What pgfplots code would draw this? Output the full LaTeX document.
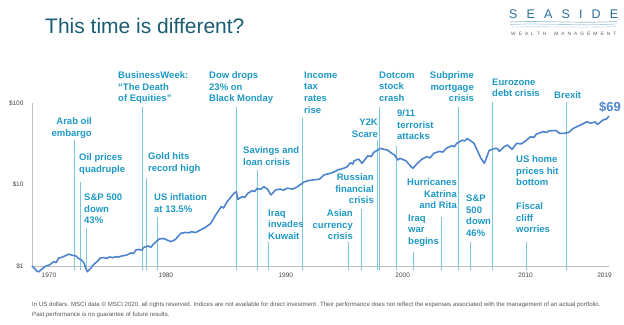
\documentclass[border=0pt]{standalone}
\usepackage{pgfplots}
\pgfplotsset{compat=1.18}
\usepackage{fontspec}
\setmainfont{Liberation Sans}
\definecolor{ttl}{RGB}{26,92,112}
\definecolor{evtxt}{RGB}{30,152,196}
\definecolor{evline}{RGB}{125,198,220}
\definecolor{dline}{RGB}{78,132,205}
\definecolor{axgray}{RGB}{190,190,190}
\definecolor{ticktxt}{RGB}{70,70,70}
\definecolor{logo}{RGB}{40,110,150}
\begin{document}
\begin{tikzpicture}
\path[use as bounding box] (0,0) rectangle (624bp,325bp);
\begin{axis}[at={(32bp,59bp)}, anchor=south west, scale only axis,
  width=577bp, height=163bp,
  xmin=1970, xmax=2020, ymode=log, ymin=1, ymax=100, clip=false,
  axis x line*=bottom, axis y line*=left,
  axis line style={axgray, line width=0.8bp},
  xtick={1971.47,1981.6,1991.99,2002.12,2012.77,2019.61},
  xticklabels={1970,1980,1990,2000,2010,2019},
  ytick={1,10,100}, yticklabels={\$1,\$10,\$100},
  yminorticks=false, major tick length=0pt,
  tick label style={font=\fontsize{6.5bp}{7bp}\selectfont, text=ticktxt},
  xticklabel style={yshift=-3bp}, yticklabel style={xshift=-5bp},
  /pgf/number format/assume math mode=true,
]
% event lines
\addplot[evline, line width=0.9bp] coordinates {(1973.72,0.89) (1973.72,35.2)};
\addplot[evline, line width=0.9bp] coordinates {(1974.16,0.89) (1974.16,10.7)};
\addplot[evline, line width=0.9bp] coordinates {(1974.68,0.89) (1974.68,2.93)};
\addplot[evline, line width=0.9bp] coordinates {(1979.61,0.89) (1979.61,89.3)};
\addplot[evline, line width=0.9bp] coordinates {(1979.96,0.89) (1979.96,12.0)};
\addplot[evline, line width=0.9bp] coordinates {(1980.91,0.89) (1980.91,3.99)};
\addplot[evline, line width=0.9bp] coordinates {(1987.75,0.89) (1987.75,89.3)};
\addplot[evline, line width=0.9bp] coordinates {(1989.57,0.89) (1989.57,15.1)};
\addplot[evline, line width=0.9bp] coordinates {(1990.52,0.89) (1990.52,1.97)};
\addplot[evline, line width=0.9bp] coordinates {(1993.46,0.89) (1993.46,65.5)};
\addplot[evline, line width=0.9bp] coordinates {(1997.45,0.89) (1997.45,1.97)};
\addplot[evline, line width=0.9bp] coordinates {(1998.57,0.89) (1998.57,5.0)};
\addplot[evline, line width=0.9bp] coordinates {(1999.96,0.89) (1999.96,35.2)};
\addplot[evline, line width=0.9bp] coordinates {(2000.13,0.89) (2000.13,89.3)};
\addplot[evline, line width=0.9bp] coordinates {(2001.60,0.89) (2001.60,29.7)};
\addplot[evline, line width=0.9bp] coordinates {(2003.07,0.89) (2003.07,1.49)};
\addplot[evline, line width=0.9bp] coordinates {(2005.50,0.89) (2005.50,3.99)};
\addplot[evline, line width=0.9bp] coordinates {(2006.97,0.89) (2006.97,89.3)};
\addplot[evline, line width=0.9bp] coordinates {(2008.01,0.89) (2008.01,1.97)};
\addplot[evline, line width=0.9bp] coordinates {(2009.91,0.89) (2009.91,102.9)};
\addplot[evline, line width=0.9bp] coordinates {(2012.86,0.89) (2012.86,1.97)};
\addplot[evline, line width=0.9bp] coordinates {(2016.32,0.89) (2016.32,102.9)};
% growth of $1
\addplot[dline, line width=1.6bp, line join=round] table {
x y
1970.00 1.00
1970.25 0.92
1970.45 0.86
1970.60 0.85
1970.90 0.93
1971.20 1.00
1971.50 1.03
1971.70 1.08
1971.90 1.13
1972.10 1.10
1972.30 1.25
1972.60 1.28
1972.90 1.34
1973.20 1.40
1973.50 1.35
1973.80 1.33
1974.00 1.25
1974.30 1.18
1974.50 1.09
1974.65 0.95
1974.80 0.85
1974.95 0.90
1975.10 0.94
1975.30 1.03
1975.50 1.09
1975.70 1.15
1975.90 1.25
1976.20 1.27
1976.50 1.24
1976.70 1.29
1977.00 1.27
1977.30 1.30
1977.50 1.29
1977.80 1.33
1978.20 1.36
1978.60 1.45
1978.80 1.42
1979.00 1.57
1979.30 1.60
1979.50 1.56
1979.70 1.70
1980.10 1.76
1980.30 1.70
1980.60 1.90
1981.00 2.14
1981.40 2.18
1981.70 2.08
1981.90 2.04
1982.00 1.98
1982.40 2.10
1982.90 2.52
1983.30 2.58
1983.60 2.55
1983.80 2.63
1984.20 2.58
1984.60 2.77
1985.00 2.95
1985.50 3.34
1985.90 4.20
1986.40 5.35
1986.60 5.15
1986.90 6.15
1987.20 6.90
1987.50 7.80
1987.70 8.15
1987.85 6.58
1988.20 7.10
1988.45 6.95
1988.70 7.80
1989.10 8.40
1989.30 8.20
1989.50 8.97
1989.80 8.70
1990.10 9.40
1990.40 8.80
1990.70 7.45
1991.10 8.55
1991.50 8.80
1991.80 8.50
1992.10 9.00
1992.60 8.80
1993.00 9.40
1993.60 10.80
1994.00 11.20
1994.40 11.40
1994.90 11.60
1995.30 13.10
1995.90 13.80
1996.20 14.30
1996.50 15.10
1997.00 15.80
1997.30 16.50
1997.60 18.50
1997.80 17.80
1997.90 19.50
1998.30 20.50
1998.60 18.20
1999.10 22.50
1999.40 22.00
1999.60 24.70
2000.20 27.80
2000.50 27.00
2000.80 26.50
2001.10 24.50
2001.40 23.10
2001.70 20.00
2001.90 21.00
2002.40 19.50
2002.70 17.50
2003.00 15.80
2003.40 18.20
2003.80 20.50
2004.20 21.90
2004.50 21.20
2004.80 24.10
2005.30 25.50
2005.60 25.00
2005.90 27.80
2006.40 30.00
2006.60 29.00
2006.80 32.00
2007.30 35.00
2007.50 34.20
2007.70 36.70
2008.00 34.50
2008.30 32.00
2008.70 24.10
2008.90 21.00
2009.20 18.20
2009.40 21.50
2009.60 26.00
2010.00 27.50
2010.30 27.80
2010.50 25.50
2010.90 29.00
2011.20 30.50
2011.60 27.00
2012.00 32.00
2012.40 31.50
2012.80 34.50
2013.20 38.60
2013.50 37.80
2013.70 41.50
2014.30 44.50
2014.60 43.50
2014.80 45.50
2015.40 46.00
2015.70 42.50
2016.10 42.40
2016.50 43.50
2016.90 48.80
2017.50 53.50
2018.10 58.90
2018.40 56.50
2018.80 58.50
2019.00 54.50
2019.30 59.00
2019.50 62.00
2019.80 64.00
2020.00 69.00
};
\end{axis}
\begin{scope}[x=1bp,y=1bp,
  evt/.style={font=\fontsize{9.5bp}{11.7bp}\selectfont\bfseries, text=evtxt, inner sep=0pt},
  L/.style={evt, anchor=north west, align=left},
  R/.style={evt, anchor=north east, align=right}]
\node[R] at (92,207.5) {Arab oil\\embargo};
\node[L] at (79,171.5) {Oil prices\\quadruple};
\node[L] at (84,131.5) {S\&P 500\\down\\43\%};
\node[L] at (118,253.5) {BusinessWeek:\\“The Death\\of Equities”};
\node[L] at (148,172.5) {Gold hits\\record high};
\node[L] at (154,131.5) {US inflation\\at 13.5\%};
\node[L] at (209,253.5) {Dow drops\\23\% on\\Black Monday};
\node[L] at (243,178.5) {Savings and\\loan crisis};
\node[L] at (268,115.5) {Iraq\\invades\\Kuwait};
\node[L] at (304,253.5) {Income\\tax\\rates\\rise};
\node[R] at (353,115.5) {Asian\\currency\\crisis};
\node[R] at (374,151.5) {Russian\\financial\\crisis};
\node[R] at (378,206.5) {Y2K\\Scare};
\node[L] at (379,253.5) {Dotcom\\stock\\crash};
\node[L] at (397,215.5) {9/11\\terrorist\\attacks};
\node[R] at (474,253.5) {Subprime\\mortgage\\crisis};
\node[L] at (492,246.5) {Eurozone\\debt crisis};
\node[L] at (554,233.5) {Brexit};
\node[R] at (457,146.5) {Hurricanes\\Katrina\\and Rita};
\node[L] at (408,110.5) {Iraq\\war\\begins};
\node[L] at (466,130.5) {S\&P\\500\\down\\46\%};
\node[L] at (516,169.5) {US home\\prices hit\\bottom};
\node[L] at (516,122.5) {Fiscal\\cliff\\worries};
\node[anchor=base, inner sep=0pt, font=\fontsize{13bp}{14bp}\selectfont\bfseries, text=dline] at (610,213.5) {\$69};
% title
\node[anchor=base west, inner sep=0pt, font=\fontsize{21bp}{24bp}\selectfont, text=ttl] at (45,292) {This time is different?};
% logo
\node[anchor=base west, inner sep=0pt, font=\fontsize{12.5bp}{13bp}\selectfont, text=logo] at (509,307)
  {\makebox[109bp][s]{S\hfill E\hfill A\hfill S\hfill I\hfill D\hfill E}};
\draw[color={rgb,255:red,150;green,190;blue,212}, line width=0.7bp] (510,303) .. controls (545,304.5) and (575,301.5) .. (617,303.5);
\draw[color={rgb,255:red,175;green,205;blue,222}, line width=0.7bp] (510,300.5) .. controls (540,302) and (580,299) .. (617,301);
\draw[color={rgb,255:red,200;green,218;blue,228}, line width=0.6bp] (512,298) .. controls (545,299) and (580,297) .. (616,298.5);
\node[anchor=base west, inner sep=0pt, font=\fontsize{4.8bp}{5bp}\selectfont, text={rgb,255:red,90;green,90;blue,90}] at (511,290)
  {\makebox[105bp][s]{W\hfill E\hfill A\hfill L\hfill T\hfill H\hfill\hspace{2bp}\hfill M\hfill A\hfill N\hfill A\hfill G\hfill E\hfill M\hfill E\hfill N\hfill T}};
% footnote
\node[anchor=base west, inner sep=0pt, font=\fontsize{6.1bp}{6.5bp}\selectfont, text={rgb,255:red,85;green,85;blue,85}] at (32,19)
  {In US dollars. MSCI data © MSCI 2020, all rights reserved. Indices are not available for direct investment. Their performance does not reflect the expenses associated with the management of an actual portfolio.};
\node[anchor=base west, inner sep=0pt, font=\fontsize{6.1bp}{6.5bp}\selectfont, text={rgb,255:red,85;green,85;blue,85}] at (32,9)
  {Past performance is no guarantee of future results.};
\end{scope}
\end{tikzpicture}
\end{document}
